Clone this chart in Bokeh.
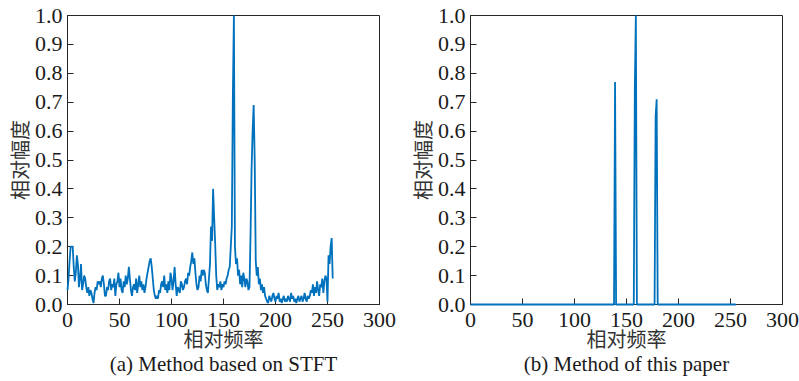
from bokeh.plotting import figure
from bokeh.layouts import row
from bokeh.models import FixedTicker, PrintfTickFormatter, Title, ColumnDataSource
from bokeh.embed import file_html
from bokeh.resources import INLINE

# ---------------- data ----------------
x_ticks = [0, 50, 100, 150, 200, 250, 300]
y_ticks = [0.0, 0.1, 0.2, 0.3, 0.4, 0.5, 0.6, 0.7, 0.8, 0.9, 1.0]

# (a) STFT spectrum, relative amplitude at relative frequency 0..255
stft_amp = [
    0.05, 0.09, 0.15, 0.20, 0.20, 0.20, 0.13, 0.08, 0.11, 0.17,
    0.14, 0.06, 0.09, 0.14, 0.05, 0.07, 0.10, 0.09, 0.06, 0.04,
    0.06, 0.03, 0.05, 0.04, 0.02, 0.005, 0.04, 0.06, 0.05, 0.08,
    0.07, 0.08, 0.06, 0.09, 0.10, 0.07, 0.03, 0.03, 0.06, 0.05,
    0.08, 0.09, 0.05, 0.07, 0.06, 0.09, 0.03, 0.07, 0.08, 0.11,
    0.06, 0.09, 0.05, 0.04, 0.08, 0.06, 0.10, 0.07, 0.09, 0.13,
    0.09, 0.05, 0.03, 0.06, 0.07, 0.05, 0.09, 0.04, 0.07, 0.10,
    0.06, 0.08, 0.05, 0.07, 0.04, 0.06, 0.09, 0.11, 0.13, 0.15,
    0.16, 0.13, 0.09, 0.05, 0.03, 0.02, 0.03, 0.02, 0.05, 0.04,
    0.07, 0.08, 0.06, 0.10, 0.05, 0.07, 0.04, 0.08, 0.05, 0.11,
    0.09, 0.05, 0.08, 0.13, 0.07, 0.03, 0.06, 0.05, 0.04, 0.08,
    0.07, 0.05, 0.06, 0.08, 0.09, 0.07, 0.11, 0.10, 0.13, 0.15,
    0.18, 0.14, 0.16, 0.11, 0.07, 0.05, 0.06, 0.10, 0.08, 0.12,
    0.10, 0.12, 0.11, 0.07, 0.05, 0.04, 0.09, 0.14, 0.27, 0.22,
    0.40, 0.30, 0.21, 0.10, 0.05, 0.07, 0.06, 0.08, 0.05, 0.07,
    0.06, 0.08, 0.07, 0.09, 0.10, 0.12, 0.13, 0.20, 0.27, 0.72,
    1.00, 0.20, 0.14, 0.16, 0.10, 0.12, 0.07, 0.10, 0.06, 0.11,
    0.09, 0.06, 0.09, 0.08, 0.05, 0.06, 0.24, 0.47, 0.60, 0.69,
    0.50, 0.15, 0.10, 0.13, 0.07, 0.09, 0.05, 0.07, 0.04, 0.06,
    0.03, 0.02, 0.01, 0.005, 0.03, 0.02, 0.01, 0.03, 0.04, 0.02,
    0.01, 0.03, 0.02, 0.04, 0.01, 0.02, 0.005, 0.02, 0.03, 0.01,
    0.02, 0.01, 0.03, 0.02, 0.01, 0.04, 0.02, 0.03, 0.01, 0.02,
    0.005, 0.02, 0.03, 0.01, 0.02, 0.03, 0.01, 0.02, 0.04, 0.02,
    0.01, 0.03, 0.02, 0.03, 0.05, 0.04, 0.07, 0.03, 0.06, 0.04,
    0.08, 0.05, 0.03, 0.07, 0.06, 0.09, 0.04, 0.08, 0.10, 0.09,
    0.01, 0.17, 0.14, 0.20, 0.23, 0.09,
]
stft_freq = list(range(len(stft_amp)))

# (b) proposed method: zero everywhere except three narrow peaks
ours_freq = [0, 138, 139, 140, 157, 158, 159, 160, 177, 178, 179, 180, 255]
ours_amp = [0.0, 0.0, 0.77, 0.0, 0.0, 0.75, 1.0, 0.0, 0.0, 0.65, 0.71, 0.0, 0.0]

x_label = "相对频率"
y_label = "相对幅度"
captions = ["(a) Method based on STFT", "(b) Method of this paper"]

LINE = "#0072BD"
AX = "#262626"
SERIF = "Liberation Serif"
CJK = "Noto Sans CJK SC"


def make(freq, amp, caption, width, border_right):
    p = figure(width=width, height=381, x_range=(0, 300), y_range=(0, 1),
               output_backend="svg", toolbar_location=None,
               min_border_left=67, min_border_right=border_right,
               min_border_top=15, min_border_bottom=77)
    p.grid.visible = False
    p.outline_line_color = AX
    p.outline_line_width = 1
    p.background_fill_color = "white"
    p.border_fill_color = "white"

    src = ColumnDataSource(dict(x=freq, y=amp))
    r = p.line("x", "y", source=src, line_color=LINE, line_width=1.8)
    r.level = "overlay"

    for ax in (p.xaxis[0], p.yaxis[0]):
        ax.axis_line_color = AX
        ax.major_tick_line_color = AX
        ax.major_tick_in = 6
        ax.major_tick_out = 0
        ax.minor_tick_line_color = None
        ax.major_label_text_font = SERIF
        ax.major_label_text_font_size = "22px"
        ax.major_label_text_color = "#1a1a1a"
        ax.axis_label_text_font = CJK
        ax.axis_label_text_font_size = "20px"
        ax.axis_label_text_font_style = "normal"
        ax.axis_label_text_color = "#333333"

    p.xaxis.ticker = FixedTicker(ticks=x_ticks)
    p.yaxis.ticker = FixedTicker(ticks=y_ticks)
    p.yaxis.formatter = PrintfTickFormatter(format="%.1f")
    p.xaxis.major_label_standoff = 8
    p.yaxis.major_label_standoff = 5
    p.xaxis.axis_label = x_label
    p.yaxis.axis_label = y_label
    p.xaxis.axis_label_standoff = -6
    p.yaxis.axis_label_standoff = -2

    t = Title(text=caption, align="center", text_font=SERIF,
              text_font_size="21px", text_font_style="normal",
              text_color="#1a1a1a", standoff=-11, offset=0)
    p.add_layout(t, "below")
    return p


p1 = make(stft_freq, stft_amp, captions[0], 403, 24)
p2 = make(ours_freq, ours_amp, captions[1], 396, 17)

layout = row(p1, p2)
open("out.html", "w").write(file_html(layout, INLINE))
